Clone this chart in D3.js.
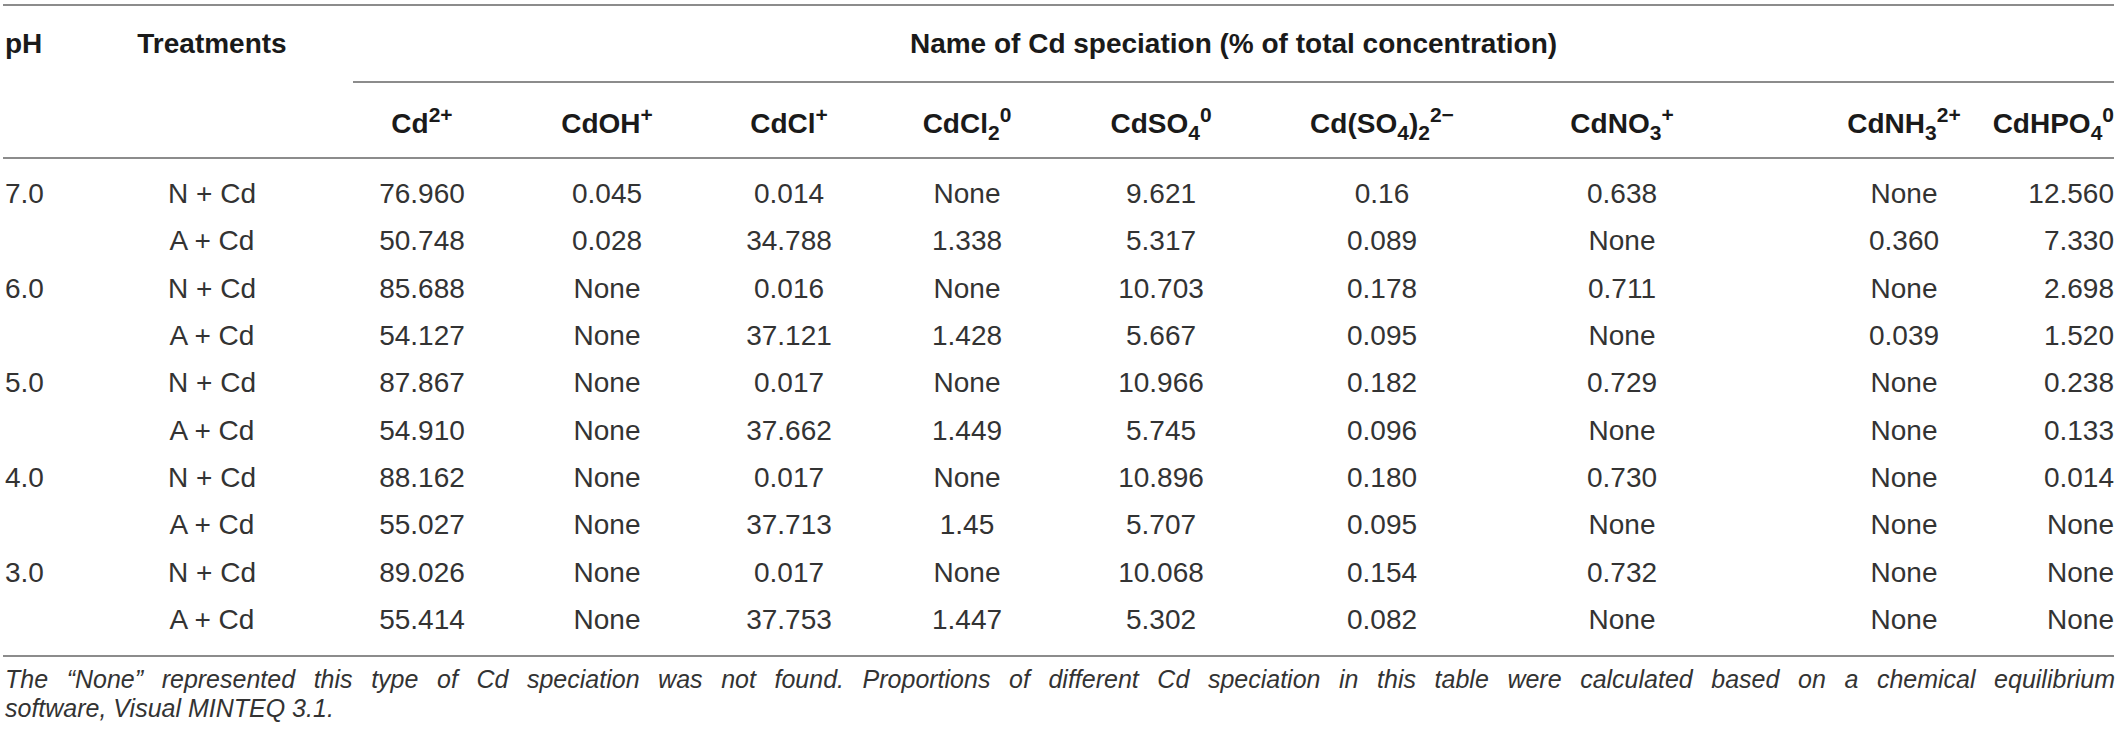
<!DOCTYPE html>
<html>
<head>
<meta charset="utf-8">
<script src="https://cdn.jsdelivr.net/npm/d3@7"></script>
<style>
  body { margin: 0; background: #fff; }
  svg { display: block; }
</style>
</head>
<body>
<svg id="svg-tabla"></svg>
<script>
const w = 2117;
const h = 739;

// datos de la tabla
const niveles_ph = ['7.0', '6.0', '5.0', '4.0', '3.0'];
const tratamientos = ['N + Cd', 'A + Cd'];
const especies = ['Cd^{2+}', 'CdOH^{+}', 'CdCl^{+}', 'CdCl_{2}^{0}', 'CdSO_{4}^{0}',
  'Cd(SO_{4})_{2}^{2\u2212}', 'CdNO_{3}^{+}', 'CdNH_{3}^{2+}', 'CdHPO_{4}^{0}'];
const titulo = 'Name of Cd speciation (% of total concentration)';

const ph7_N = ['76.960', '0.045', '0.014', 'None', '9.621', '0.16', '0.638', 'None', '12.560'];
const ph7_A = ['50.748', '0.028', '34.788', '1.338', '5.317', '0.089', 'None', '0.360', '7.330'];
const ph6_N = ['85.688', 'None', '0.016', 'None', '10.703', '0.178', '0.711', 'None', '2.698'];
const ph6_A = ['54.127', 'None', '37.121', '1.428', '5.667', '0.095', 'None', '0.039', '1.520'];
const ph5_N = ['87.867', 'None', '0.017', 'None', '10.966', '0.182', '0.729', 'None', '0.238'];
const ph5_A = ['54.910', 'None', '37.662', '1.449', '5.745', '0.096', 'None', 'None', '0.133'];
const ph4_N = ['88.162', 'None', '0.017', 'None', '10.896', '0.180', '0.730', 'None', '0.014'];
const ph4_A = ['55.027', 'None', '37.713', '1.45', '5.707', '0.095', 'None', 'None', 'None'];
const ph3_N = ['89.026', 'None', '0.017', 'None', '10.068', '0.154', '0.732', 'None', 'None'];
const ph3_A = ['55.414', 'None', '37.753', '1.447', '5.302', '0.082', 'None', 'None', 'None'];

const nota = [
  'The \u201cNone\u201d represented this type of Cd speciation was not found. Proportions of different Cd speciation in this table were calculated based on a chemical equilibrium',
  'software, Visual MINTEQ 3.1.'
];

const filas = [ph7_N, ph7_A, ph6_N, ph6_A, ph5_N, ph5_A, ph4_N, ph4_A, ph3_N, ph3_A];

const fuente = "'Liberation Sans', Arial, Helvetica, sans-serif";
const colorTexto = '#333333';
const colorLinea = '#8c8c8c';

// escalas
const escalaCol = d3.scaleOrdinal()
  .domain(especies)
  .range([422, 607, 789, 967, 1161, 1382, 1622, 1904, 2114]);

const escalaFila = d3.scalePoint()
  .domain(d3.range(filas.length))
  .range([203, 629]);

const ultima = especies[especies.length - 1];
const anclaCol = d => d === ultima ? 'end' : 'middle';

let svg = d3.select('#svg-tabla')
  .attr('width', w)
  .attr('height', h)
  .style('font-family', fuente);

// texto con subindices y superindices
function etiqueta(sel, texto) {
  let off = 0;
  const partes = texto.match(/_\{[^}]*\}|\^\{[^}]*\}|[^_^]+/g);
  partes.forEach(p => {
    let tipo = 'base', t = p;
    if (p[0] === '_') { tipo = 'sub'; t = p.slice(2, -1); }
    else if (p[0] === '^') { tipo = 'sup'; t = p.slice(2, -1); }
    const meta = tipo === 'sub' ? 7 : tipo === 'sup' ? -11 : 0;
    sel.append('tspan')
      .attr('dy', meta - off)
      .attr('font-size', tipo === 'base' ? 28 : 21)
      .text(t);
    off = meta;
  });
}

// lineas
const lineas = [
  {x1: 3, x2: 2114, y: 5},
  {x1: 353, x2: 2114, y: 82},
  {x1: 3, x2: 2114, y: 158},
  {x1: 3, x2: 2114, y: 656}
];

svg.append('g')
  .selectAll('line')
  .data(lineas)
  .enter()
  .append('line')
  .attr('x1', d => d.x1)
  .attr('x2', d => d.x2)
  .attr('y1', d => d.y)
  .attr('y2', d => d.y)
  .style('stroke', colorLinea)
  .style('stroke-width', 2);

// encabezados
let enc = svg.append('g')
  .attr('font-weight', 'bold')
  .attr('font-size', 28)
  .attr('fill', '#1a1a1a');

enc.append('text').attr('x', 5).attr('y', 53).text('pH');
enc.append('text').attr('x', 212).attr('y', 53).attr('text-anchor', 'middle').text('Treatments');
enc.append('text')
  .attr('x', (353 + 2114) / 2)
  .attr('y', 53)
  .attr('text-anchor', 'middle')
  .text(titulo);

enc.selectAll('.especie')
  .data(especies)
  .enter()
  .append('text')
  .attr('class', 'especie')
  .attr('x', d => escalaCol(d))
  .attr('y', 133)
  .attr('text-anchor', d => anclaCol(d))
  .each(function(d) { etiqueta(d3.select(this), d); });

// cuerpo
let cuerpo = svg.append('g')
  .attr('font-size', 28)
  .attr('fill', colorTexto);

cuerpo.selectAll('.ph')
  .data(niveles_ph)
  .enter()
  .append('text')
  .attr('class', 'ph')
  .attr('x', 5)
  .attr('y', (d, i) => escalaFila(i * 2))
  .text(d => d);

cuerpo.selectAll('.trat')
  .data(filas)
  .enter()
  .append('text')
  .attr('class', 'trat')
  .attr('x', 212)
  .attr('y', (d, i) => escalaFila(i))
  .attr('text-anchor', 'middle')
  .text((d, i) => tratamientos[i % 2]);

cuerpo.selectAll('.fila')
  .data(filas)
  .enter()
  .append('g')
  .attr('class', 'fila')
  .attr('transform', (d, i) => 'translate(0, ' + escalaFila(i) + ')')
  .selectAll('text')
  .data(d => d.map((v, j) => ({v: v, col: especies[j]})))
  .enter()
  .append('text')
  .attr('x', d => escalaCol(d.col))
  .attr('text-anchor', d => anclaCol(d.col))
  .text(d => d.v);

// nota al pie (primera linea justificada)
svg.append('g')
  .attr('font-size', 25)
  .attr('font-style', 'italic')
  .attr('fill', colorTexto)
  .selectAll('text')
  .data(nota)
  .enter()
  .append('text')
  .attr('x', 5)
  .attr('y', (d, i) => 688 + i * 29)
  .text(d => d)
  .each(function(d, i) {
    if (i > 0) return;
    const natural = this.getComputedTextLength();
    const espacios = d.split(' ').length - 1;
    const extra = (2110 - natural) / espacios;
    if (extra > 0) d3.select(this).attr('word-spacing', extra);
  });
</script>
</body>
</html>
